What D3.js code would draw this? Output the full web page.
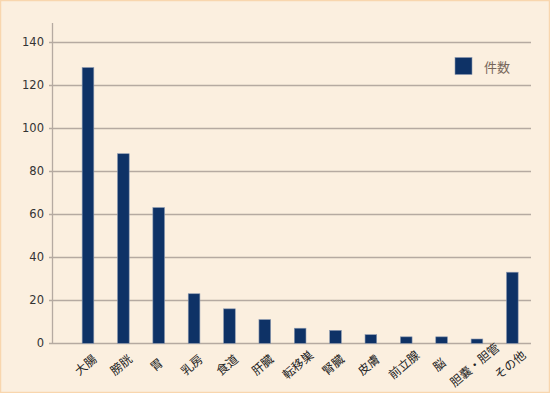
<!DOCTYPE html>
<html>
<head>
<meta charset="utf-8">
<script src="https://cdn.jsdelivr.net/npm/d3@7"></script>
<style>
  html, body { margin: 0; padding: 0; background: #fbefdf; }
  svg { display: block; }
</style>
</head>
<body>
<div id="chart"></div>
<script>
var categories = ["大腸", "膀胱", "胃", "乳房", "食道", "肝臓", "転移巣", "腎臓", "皮膚", "前立腺", "脳", "胆嚢・胆管", "その他"];
var counts = [128, 88, 63, 23, 16, 11, 7, 6, 4, 3, 3, 2, 33];
var yTicks = [0, 20, 40, 60, 80, 100, 120, 140];
var seriesName = "件数";

var total_w = 550, total_h = 393;
var axis_x = 52;

var svg = d3.select("#chart").append("svg")
    .attr("width", total_w)
    .attr("height", total_h);

// background + border
svg.append("rect")
    .attr("x", 0.5).attr("y", 0.5)
    .attr("width", total_w - 1).attr("height", total_h - 1)
    .attr("fill", "#fbefdf")
    .attr("stroke", "#f8d6ae")
    .attr("stroke-width", 1.5);

var yscale = d3.scaleLinear()
    .domain([0, 140])
    .range([343.3, 41.7]);

var xscale = d3.scaleBand()
    .domain(categories)
    .range([70.3, 530])
    .paddingInner(0.67)
    .paddingOuter(0.335);

// gridlines
svg.append("g")
    .selectAll("line")
    .data(yTicks)
    .enter()
    .append("line")
    .attr("x1", axis_x - 3)
    .attr("x2", 531)
    .attr("y1", function(d) { return Math.round(yscale(d)) + 0.5; })
    .attr("y2", function(d) { return Math.round(yscale(d)) + 0.5; })
    .style("stroke", "#b5aaa1")
    .style("stroke-width", 1.3);

// y axis line
svg.append("line")
    .attr("x1", axis_x + 0.5).attr("x2", axis_x + 0.5)
    .attr("y1", 23).attr("y2", Math.round(yscale(0)) + 0.5)
    .style("stroke", "#b5aaa1")
    .style("stroke-width", 1.3);

// y tick labels
svg.append("g")
    .selectAll("text")
    .data(yTicks)
    .enter()
    .append("text")
    .attr("x", 44)
    .attr("y", function(d) { return yscale(d) + 4; })
    .attr("text-anchor", "end")
    .style("font-family", "DejaVu Sans, sans-serif")
    .style("font-size", "11.5px")
    .style("fill", "#333")
    .text(function(d) { return d; });

// bars
svg.append("g")
    .selectAll("rect")
    .data(counts)
    .enter()
    .append("rect")
    .attr("x", function(d, i) { return xscale(categories[i]); })
    .attr("y", function(d) { return yscale(d); })
    .attr("width", xscale.bandwidth())
    .attr("height", function(d) { return yscale(0) - yscale(d); })
    .attr("fill", "#0e3266")
    .style("stroke", "#8a98b0")
    .style("stroke-width", 0.6);

// x labels, rotated
svg.append("g")
    .selectAll("text")
    .data(categories)
    .enter()
    .append("text")
    .attr("transform", function(d) {
        var cx = xscale(d) + xscale.bandwidth() / 2 - 3;
        return "translate(" + cx + ",364) rotate(-40)";
    })
    .attr("text-anchor", "middle")
    .attr("dominant-baseline", "central")
    .style("font-family", "Noto Sans CJK JP, sans-serif")
    .style("font-size", "12px")
    .style("fill", "#222")
    .text(function(d) { return d; });

// legend
svg.append("rect")
    .attr("x", 455).attr("y", 57.5)
    .attr("width", 17).attr("height", 17)
    .attr("fill", "#0e3266")
    .style("stroke", "#8a98b0")
    .style("stroke-width", 0.6);

svg.append("text")
    .attr("x", 484).attr("y", 66)
    .attr("dominant-baseline", "central")
    .style("font-family", "Noto Sans CJK JP, sans-serif")
    .style("font-size", "13px")
    .style("fill", "#76665a")
    .text(seriesName);
</script>
</body>
</html>
